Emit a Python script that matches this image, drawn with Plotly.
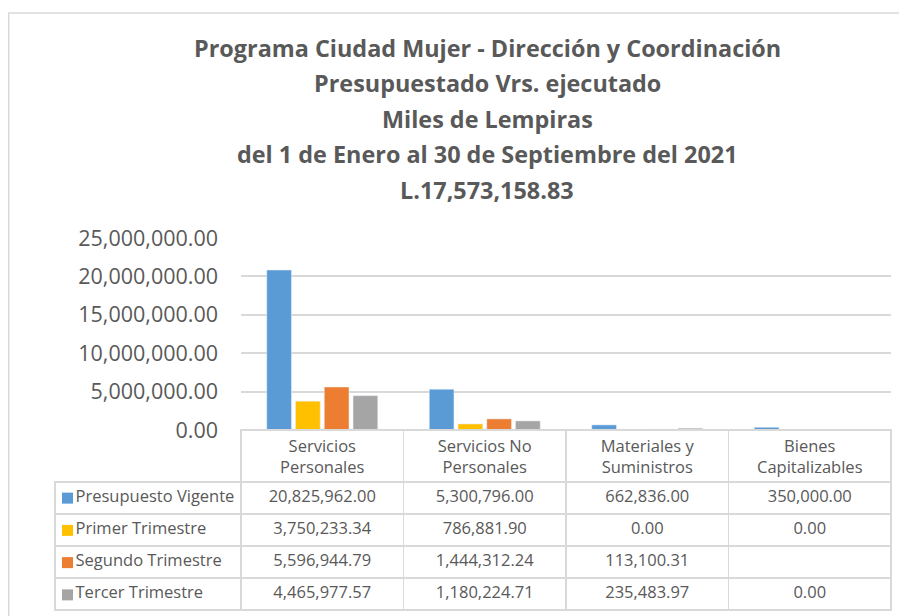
import plotly.graph_objects as go

categories = ["Servicios Personales", "Servicios No Personales", "Materiales y Suministros", "Bienes Capitalizables"]
header_labels = ["Servicios<br>Personales", "Servicios No<br>Personales", "Materiales y<br>Suministros", "Bienes<br>Capitalizables"]
series_names = ["Presupuesto Vigente", "Primer Trimestre", "Segundo Trimestre", "Tercer Trimestre"]
presupuesto_vigente = [20825962.00, 5300796.00, 662836.00, 350000.00]
primer_trimestre = [3750233.34, 786881.90, 0.00, 0.00]
segundo_trimestre = [5596944.79, 1444312.24, 113100.31, None]
tercer_trimestre = [4465977.57, 1180224.71, 235483.97, 0.00]
series_values = [presupuesto_vigente, primer_trimestre, segundo_trimestre, tercer_trimestre]
colors = ["#5B9BD5", "#FFC000", "#ED7D31", "#A5A5A5"]
title_lines = [
    "Programa Ciudad Mujer - Dirección y Coordinación",
    "Presupuestado Vrs. ejecutado",
    "Miles de Lempiras",
    "del 1 de Enero al 30 de Septiembre del 2021",
    "L.17,573,158.83",
]

OFF = 8  # page body margin
W, H = 907 - OFF, 616 - OFF
FONT = "Open Sans"
GREY = "#595959"
LINE = "#d9d9d9"
CLEAR = "rgba(0,0,0,0)"
TXT = 16.5

def px(x):
    return (x - OFF) / W

def py(y):
    return 1 - (y - OFF) / H

fig = go.Figure()

for name, vals, col in zip(series_names, series_values, colors):
    fig.add_trace(go.Bar(
        x=categories, y=vals, name=name, marker_color=col,
        showlegend=False, hoverinfo="x+y+name",
    ))

# legend keys inside the table's label column
fig.add_trace(go.Scatter(
    x=[0] * len(series_names), y=list(range(len(series_names))),
    mode="markers", xaxis="x2", yaxis="y2", showlegend=False, hoverinfo="skip",
    marker=dict(symbol="square", size=11, color=colors, line=dict(width=0)),
))

def fmt(v):
    return "" if v is None else f"{v:,.2f}"

pad = "\u2002\u00a0"
columns = [[pad + n.replace(" ", "\u00a0") for n in series_names]]
for i in range(len(categories)):
    columns.append([fmt(s[i]) for s in series_values])

fig.add_trace(go.Table(
    domain=dict(x=[px(55), px(891)], y=[py(611), py(430)]),
    columnwidth=[186, 162.5, 162.5, 162.5, 162.5],
    header=dict(
        values=[""] * (len(categories) + 1),
        height=52,
        align="center",
        fill_color=CLEAR,
        line=dict(color=[CLEAR] + [LINE] * 4, width=1.5),
        font=dict(family=FONT, size=TXT, color=GREY),
    ),
    cells=dict(
        values=columns,
        height=32,
        align=["left"] + ["center"] * 4,
        fill_color=CLEAR,
        line=dict(color=LINE, width=1.5),
        font=dict(family=FONT, size=TXT, color=GREY),
    ),
))

for i, line in enumerate(title_lines):
    fig.add_annotation(
        text=f"<b>{line}</b>", xref="paper", yref="paper",
        x=px(487), y=py(48 + i * 35.5), xanchor="center", yanchor="middle",
        showarrow=False, font=dict(family=FONT, size=23.4, color=GREY),
    )

fig.add_shape(type="rect", xref="paper", yref="paper",
              x0=px(8.75), x1=1.2, y0=-0.2, y1=py(13),
              line=dict(color=LINE, width=1.5), layer="below")

fig.update_layout(
    width=W, height=H,
    margin=dict(l=0, r=0, t=0, b=0, autoexpand=False),
    paper_bgcolor="white", plot_bgcolor="white",
    barmode="group", bargap=0.292, bargroupgap=0.142,
    xaxis=dict(domain=[px(241), px(891)], range=[-0.5, 3.5], automargin=False,
               tickvals=categories, ticktext=header_labels, ticks="",
               tickfont=dict(family=FONT, size=TXT, color=GREY), ticklabelstandoff=4,
               showgrid=False, zeroline=False, showline=False),
    yaxis=dict(domain=[py(430), py(238)], range=[0, 25000000], dtick=5000000, automargin=False,
               tickformat=",.2f", gridcolor=LINE, gridwidth=1.5, zeroline=False, showline=False,
               tickfont=dict(family=FONT, size=21.5, color=GREY), ticklabelstandoff=22),
    xaxis2=dict(domain=[px(55), px(241)], range=[-12.5, 173.5], anchor="y2", automargin=False,
                visible=False, fixedrange=True),
    yaxis2=dict(domain=[py(611), py(482)], range=[3.5, -0.5], anchor="x2", automargin=False,
                visible=False, fixedrange=True),
    font=dict(family=FONT, color=GREY),
)

fig.write_html("out.html")
